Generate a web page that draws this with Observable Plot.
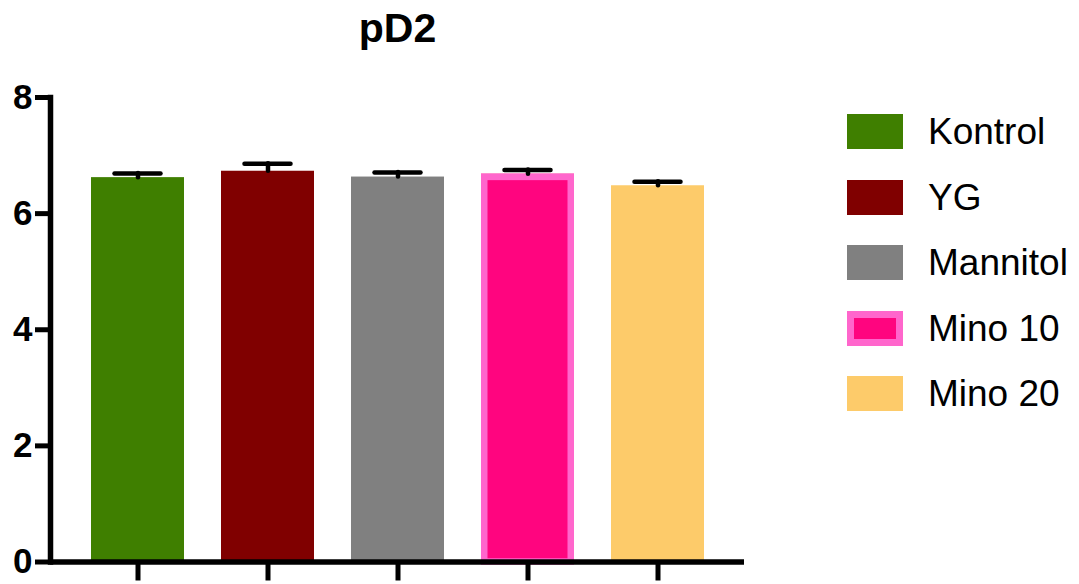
<!DOCTYPE html>
<html><head><meta charset="utf-8">
<script src="https://cdn.jsdelivr.net/npm/d3@7"></script>
<script src="https://cdn.jsdelivr.net/npm/@observablehq/plot@0.6"></script>
<style>
body{margin:0;background:#fff;}
#wrap{position:relative;width:1079px;height:584px;font-family:"Liberation Sans",Arial,sans-serif;}
#legend{position:absolute;left:847px;top:114px;}
.row{display:flex;align-items:center;height:35px;margin-bottom:30.6px;}
.sw{width:56px;height:35px;box-sizing:border-box;margin-right:25px;flex:none;}
.lab{font-size:37px;color:#000;line-height:35px;white-space:nowrap;}
</style></head><body><div id="wrap"></div>
<script>
const groups = ["Kontrol", "YG", "Mannitol", "Mino 10", "Mino 20"];
const means = [6.62, 6.73, 6.63, 6.68, 6.48];
const sems = [0.07, 0.13, 0.08, 0.07, 0.07];
const fills = ["#3f7f00", "#800000", "#808080", "#ff057f", "#fdcb6a"];
const borders = [null, null, null, "#ff66cc", null];
const yTicks = [0, 2, 4, 6, 8];
const title = "pD2";

const data = groups.map((g, i) => ({group: g, mean: means[i], sem: sems[i], fill: fills[i], border: borders[i]}));

const chart = Plot.plot({
  width: 1079,
  height: 584,
  marginLeft: 50,
  marginRight: 335,
  marginTop: 97,
  marginBottom: 22.5,
  style: {fontFamily: "Liberation Sans, Arial, sans-serif", background: "#fff", overflow: "visible"},
  x: {domain: groups, paddingInner: 0.285, paddingOuter: 0.3115, axis: null},
  y: {domain: [0, 8], axis: null},
  marks: [
    Plot.barY(data, {x: "group", y: "mean", fill: d => d.fill}),
    Plot.barY(data.filter(d => d.border), {x: "group", y: "mean", fill: "none", stroke: d => d.border, strokeWidth: 6.5, insetLeft: 3.25, insetRight: 3.25, insetTop: 3.25, insetBottom: 0}),
    Plot.ruleX(data, {x: "group", y1: "mean", y2: d => d.mean + d.sem, stroke: "#000", strokeWidth: 4.5, strokeLinecap: "round"}),
    Plot.tickY(data, {x: "group", y: d => d.mean + d.sem, stroke: "#000", strokeWidth: 4.5, strokeLinecap: "round", inset: 23.5}),
    Plot.frame({anchor: "left", stroke: "#000", strokeWidth: 5.5}),
    Plot.ruleY([0], {stroke: "#000", strokeWidth: 5.5}),
    Plot.axisY({ticks: yTicks, tickSize: 15, strokeWidth: 5, tickFormat: () => "", label: null}),
    Plot.text(yTicks, {frameAnchor: "left", y: d => d, text: d => String(d), dx: -18, textAnchor: "end", fontSize: 35, fontWeight: "bold", fill: "#000"}),
    Plot.axisX({tickSize: 19, strokeWidth: 5, tickFormat: () => "", label: null}),
    Plot.text([title], {frameAnchor: "top", dy: -85, fontSize: 41, fontWeight: "bold", fill: "#000"})
  ]
});
const wrap = document.getElementById("wrap");
wrap.appendChild(chart);

const legend = document.createElement("div");
legend.id = "legend";
data.forEach(d => {
  const row = document.createElement("div");
  row.className = "row";
  const sw = document.createElement("div");
  sw.className = "sw";
  sw.style.background = d.fill;
  if (d.border) sw.style.border = `7px solid ${d.border}`;
  const lab = document.createElement("div");
  lab.className = "lab";
  lab.textContent = d.group;
  row.appendChild(sw); row.appendChild(lab);
  legend.appendChild(row);
});
wrap.appendChild(legend);
</script></body></html>
